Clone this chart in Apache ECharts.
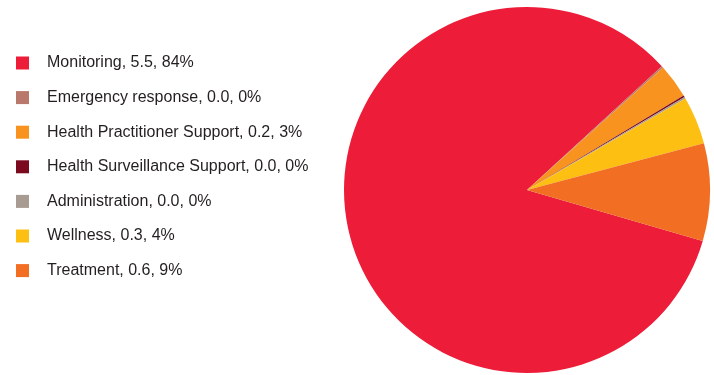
<!DOCTYPE html>
<html>
<head>
<meta charset="utf-8">
<script src="https://cdn.jsdelivr.net/npm/echarts@6/dist/echarts.min.js"></script>
<style>
  html, body { margin: 0; padding: 0; background: #fff; }
  #chart { width: 714px; height: 375px; }
</style>
</head>
<body>
<div id="chart"></div>
<script>
// slice names, in legend / drawing order
const categories = [
  'Monitoring',
  'Emergency response',
  'Health Practitioner Support',
  'Health Surveillance Support',
  'Administration',
  'Wellness',
  'Treatment'
]
// values (shown rounded to 1 decimal)
const values = [5.54, 0.01, 0.2, 0.01, 0.01, 0.28, 0.57]
const colors = ['#ED1C38', '#B8786C', '#F7931E', '#7B0A1E', '#A89B92', '#FDBF12', '#F26E22']

const total = values.reduce((a, b) => a + b, 0)

const myChart = echarts.init(document.getElementById('chart'))
const option = {
  animation: false,
  color: colors,
  legend: {
    orient: 'vertical',
    left: 11,
    top: 50,
    icon: 'rect',
    itemWidth: 13,
    itemHeight: 13,
    itemGap: 18.6,
    data: categories,
    formatter: (name) => {
      const i = categories.indexOf(name)
      const pct = Math.round(values[i] / total * 100)
      return name + ', ' + values[i].toFixed(1) + ', ' + pct + '%'
    },
    textStyle: {
      fontFamily: 'Liberation Sans, Arial, sans-serif',
      fontSize: 16,
      lineHeight: 16,
      padding: [0, 0, 0, 13],
      color: '#231F20'
    }
  },
  series: [
    {
      type: 'pie',
      center: [527, 190],
      radius: 183,
      startAngle: -16.2,
      clockwise: true,
      label: { show: false },
      labelLine: { show: false },
      emphasis: { disabled: true },
      data: categories.map((name, i) => ({ name, value: values[i] }))
    }
  ]
}
myChart.setOption(option)
</script>
</body>
</html>
